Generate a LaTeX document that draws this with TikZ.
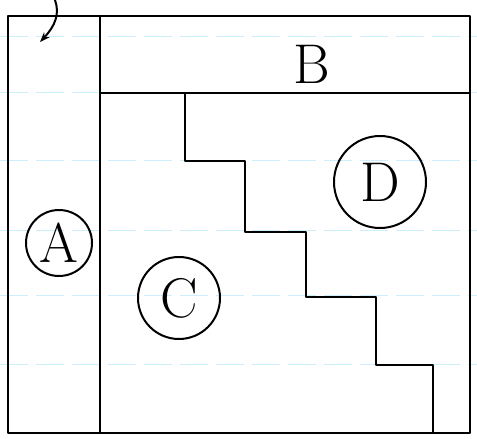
\documentclass[tikz,border=0pt]{standalone}
\usetikzlibrary{calc, positioning}
\usetikzlibrary{arrows.meta}

\begin{document}
\begin{tikzpicture}[x=0.5pt, y=-0.5pt, line width=1.2pt, line join=round,
  region/.style={draw, circle, line width=1pt, inner sep=0pt,
    font=\fontsize{28}{28}\selectfont}]
\useasboundingbox (0,0) rectangle (477,439);

% ruled paper
\foreach \ry in {36,92,160,230,295,364}
  \draw[cyan!20, line width=0.4pt, dash pattern=on 14pt off 4pt] (0,\ry) -- (477,\ry);

\coordinate (TL) at (8,16);
\coordinate (BR) at (470,433);
\coordinate (Dtop) at (100,16);
\coordinate (Dbot) at (100,433);
\coordinate (Bl) at (100,93);
\coordinate (Br) at (470,93);

\draw (TL) rectangle (BR);
\draw (Dtop) -- (Dbot);
\draw (Bl) -- (Br);

\draw
  (185,93) -- (185,161) -- (245,161) -- (245,232) -- (306,232)
  -- (306,297) -- (376,297) -- (376,365) -- (433,365) -- (433,433);

\node[font=\fontsize{28}{28}\selectfont] (B) at (312,64) {B};
\node[region, minimum size=33pt] (A) at (59,243) {A};
\node[region, minimum size=41pt] (C) at (179,298) {C};
\node[region, minimum size=46pt] (D) at (380,182) {D};

\coordinate (start) at (55,0);
\draw[-{Stealth[length=5pt]}, line width=1pt]
  (start) .. controls (60,14) and (55,26) .. (40,42);
\end{tikzpicture}
\end{document}
